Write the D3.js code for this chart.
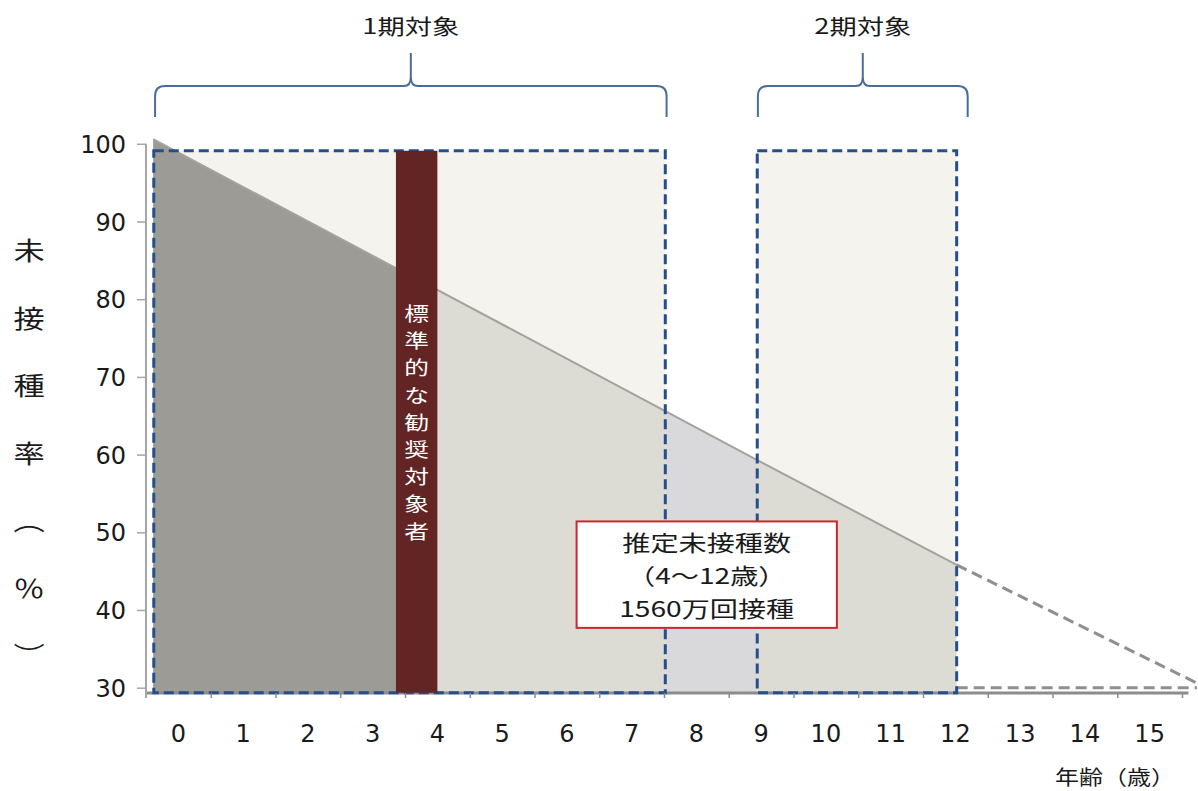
<!DOCTYPE html>
<html>
<head>
<meta charset="utf-8">
<script src="https://cdn.jsdelivr.net/npm/d3@7"></script>
<style>
  html, body { margin: 0; padding: 0; background: #ffffff; }
  svg { display: block; }
</style>
</head>
<body>
<svg id="chart" width="1198" height="791"></svg>
<script>
// ---------------- data ----------------
const ages = [0,1,2,3,4,5,6,7,8,9,10,11,12,13,14,15];
const yTicks = [30,40,50,60,70,80,90,100];
// 未接種率 (%) along age (continuous)
const rateAges  = [0.11, 3.86, 4.5, 8.02, 9.44, 12.52];
const rateVals  = [100.6, 84.0, 81.2, 65.6, 59.3, 45.8];
// dashed extrapolation beyond 12
const extAges = [12.52, 16.23];
const extVals = [45.8, 30.6];
const floorAges = [12.52, 16.23];
const floorVals = [30, 30];
// target periods
const periodLabels = ["1期対象", "2期対象"];
const periodStart  = [0.12, 9.44];
const periodEnd    = [8.02, 12.52];
const braceStart   = [0.14, 9.45];
const braceEnd     = [8.04, 12.69];
const boxTop = 99.1, boxBottom = 29.35;
// standard recommended target bar
const barLabel = "標準的な勧奨対象者";
const barStart = 3.86, barEnd = 4.5;
// note box
const noteLines = ["推定未接種数", "（4～12歳）", "1560万回接種"];
const noteAgeRange = [6.65, 10.67];
const noteRateRange = [37.7, 51.4];
const yTitleChars = ["未","接","種","率","︵","％","︶"];
const xTitle = "年齢（歳）";

// ---------------- setup ----------------
const svg = d3.select("#chart");
const x = d3.scaleLinear().domain([0,16]).range([146,1182]);
const y = d3.scaleLinear().domain([30,100]).range([687.7,143.8]);
const band = d3.scaleBand().domain(ages).range([x(0), x(16)]);
const CJK = "'Noto Sans CJK JP', 'Noto Sans CJK SC', sans-serif";
const NUM = "'DejaVu Sans', Verdana, sans-serif";

function stext(sel, px, py, str, size, opt) {
  opt = opt || {};
  return sel.append("text")
    .attr("transform", `translate(${px},${py}) scale(${opt.sx || 1.3},1)`)
    .attr("text-anchor", opt.anchor || "middle")
    .style("font-family", opt.family || CJK)
    .style("font-size", size + "px")
    .style("fill", opt.fill || "#1a1a1a")
    .text(str);
}

const ratePts = rateAges.map((a,i) => ({age:a, rate:rateVals[i]}));

// box backgrounds
periodStart.forEach((s,i) => {
  svg.append("rect")
    .attr("x", x(s)).attr("y", y(boxTop))
    .attr("width", x(periodEnd[i]) - x(s))
    .attr("height", y(boxBottom) - y(boxTop))
    .attr("fill", "#f4f3ed");
});

// area under line, clipped into regions
const area = d3.area().x(d => x(d.age)).y0(y(boxBottom)).y1(d => y(d.rate));
const regions = [
  {from: rateAges[0], to: barStart, fill: "#9c9b95"},
  {from: barStart, to: periodEnd[0], fill: "#dcdbd4"},
  {from: periodEnd[0], to: periodStart[1], fill: "#d9d9db"},
  {from: periodStart[1], to: periodEnd[1], fill: "#dcdbd4"}
];
const defs = svg.append("defs");
regions.forEach((r,i) => {
  defs.append("clipPath").attr("id", "clip" + i)
    .append("rect").attr("x", x(r.from)).attr("y", 0)
    .attr("width", x(r.to) - x(r.from)).attr("height", 791);
  svg.append("path").datum(ratePts).attr("d", area)
    .attr("fill", r.fill).attr("clip-path", `url(#clip${i})`);
});

// line on top of the area
const line = d3.line().x(d => x(d.age)).y(d => y(d.rate));
svg.append("path").datum(ratePts)
  .attr("d", line).attr("fill", "none")
  .attr("stroke", "#a3a29c").attr("stroke-width", 2);

// x axis thick line
svg.append("line").attr("x1", x(0)).attr("x2", x(16.1))
  .attr("y1", 693).attr("y2", 693)
  .attr("stroke", "#8c8c8c").attr("stroke-width", 3);

// dashed extrapolation
const ext = extAges.map((a,i) => ({age:a, rate:extVals[i]}));
const flo = floorAges.map((a,i) => ({age:a, rate:floorVals[i]}));
[ext, flo].forEach(d => {
  svg.append("path").datum(d).attr("d", line).attr("fill", "none")
    .attr("stroke", "#8f8f8f").attr("stroke-width", 3)
    .attr("stroke-dasharray", "11,6");
});

// dashed period boxes
periodStart.forEach((s,i) => {
  svg.append("rect")
    .attr("x", x(s)).attr("y", y(boxTop))
    .attr("width", x(periodEnd[i]) - x(s))
    .attr("height", y(boxBottom) - y(boxTop))
    .attr("fill", "none")
    .attr("stroke", "#244f8a").attr("stroke-width", 3)
    .attr("stroke-dasharray", "10,5");
});

// bar
svg.append("rect")
  .attr("x", x(barStart)).attr("y", y(boxTop))
  .attr("width", x(barEnd) - x(barStart))
  .attr("height", y(boxBottom) - y(boxTop))
  .attr("fill", "#632523");
const barText = svg.append("g");
Array.from(barLabel).forEach((ch,i) => {
  stext(barText, (x(barStart)+x(barEnd))/2, 321 + i*27.2, ch, 19, {fill:"#ffffff", sx:1.3});
});

// braces + labels
const yB = 117, yH = 86, yP = 53, r = 10;
periodLabels.forEach((lab,i) => {
  const x0 = x(braceStart[i]), x1 = x(braceEnd[i]), xm = (x0+x1)/2;
  const p = d3.path();
  p.moveTo(x0, yB);
  p.lineTo(x0, yH + r);
  p.quadraticCurveTo(x0, yH, x0 + r, yH);
  p.lineTo(xm - 7, yH);
  p.quadraticCurveTo(xm, yH, xm, yH - 9);
  p.lineTo(xm, yP);
  p.moveTo(xm, yH - 9);
  p.quadraticCurveTo(xm, yH, xm + 7, yH);
  p.lineTo(x1 - r, yH);
  p.quadraticCurveTo(x1, yH, x1, yH + r);
  p.lineTo(x1, yB);
  svg.append("path").attr("d", p.toString()).attr("fill", "none")
    .attr("stroke", "#4a6c9c").attr("stroke-width", 2);
  stext(svg, xm, 34, lab, 21, {sx:1.3});
});

// note box
const nx0 = x(noteAgeRange[0]), nx1 = x(noteAgeRange[1]);
const ny0 = y(noteRateRange[1]), ny1 = y(noteRateRange[0]);
svg.append("rect").attr("x", nx0).attr("y", ny0)
  .attr("width", nx1 - nx0).attr("height", ny1 - ny0)
  .attr("fill", "#ffffff").attr("stroke", "#c8282e").attr("stroke-width", 2);
noteLines.forEach((t,i) => {
  stext(svg, (nx0+nx1)/2, ny0 + 30 + i*33, t, 22, {sx:1.28});
});

// y axis
svg.append("line").attr("x1", 146).attr("x2", 146)
  .attr("y1", y(100)).attr("y2", 698)
  .attr("stroke", "#a6a6a6").attr("stroke-width", 2);
const yAxis = svg.append("g").attr("transform", "translate(146,0)")
  .call(d3.axisLeft(y).tickValues(yTicks).tickSize(9).tickPadding(11).tickFormat(d3.format("d")));
yAxis.select(".domain").remove();
yAxis.selectAll(".tick line").attr("stroke", "#a6a6a6").attr("stroke-width", 1.5);
yAxis.selectAll(".tick text").style("font-family", NUM).style("font-size", "24px")
  .style("fill", "#1a1a1a").attr("dy", "0.36em");

// x axis ticks
const xTickAxis = svg.append("g").attr("transform", "translate(0,693)")
  .call(d3.axisBottom(x).tickValues(d3.range(1,17)).tickSize(5).tickFormat(""));
xTickAxis.select(".domain").remove();
xTickAxis.selectAll(".tick line").attr("stroke", "#8c8c8c").attr("stroke-width", 1.5);
// x labels
const xLab = svg.append("g").attr("transform", "translate(0,742)")
  .call(d3.axisBottom(band).tickSize(0).tickPadding(0));
xLab.select(".domain").remove();
xLab.selectAll(".tick text").attr("dy", 0).attr("y", 0)
  .style("font-family", NUM).style("font-size", "24px").style("fill", "#1a1a1a");

// y title (vertical)
yTitleChars.forEach((ch,i) => {
  stext(svg, 29, 260 + i*67.5, ch, 25, {sx:1.25});
});
// x title
stext(svg, 1115, 785, xTitle, 20, {sx:1.2});
</script>
</body>
</html>
